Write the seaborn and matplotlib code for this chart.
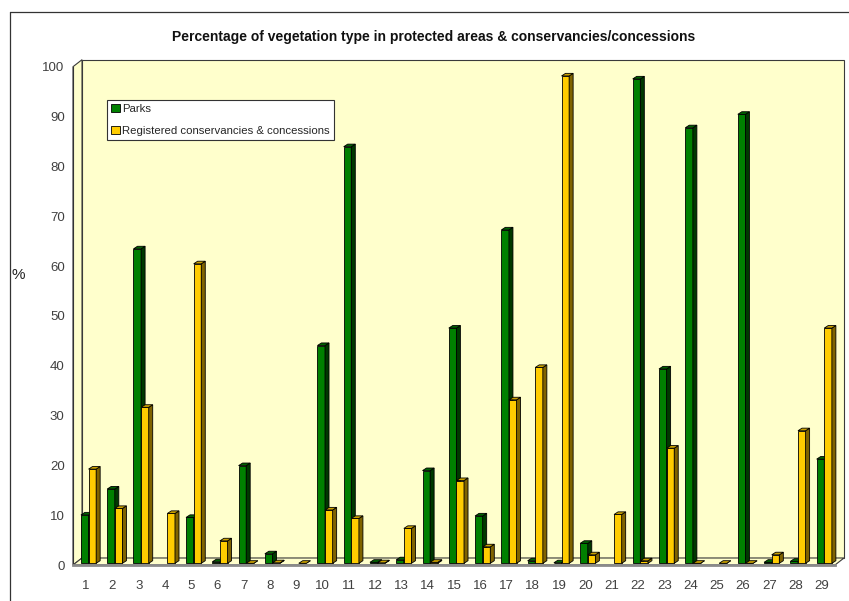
import numpy as np
import pandas as pd
import matplotlib
matplotlib.use("Agg")
import matplotlib.pyplot as plt
from matplotlib.patches import Polygon, Patch
from matplotlib.lines import Line2D
from matplotlib.transforms import ScaledTranslation, IdentityTransform
import seaborn as sns

nan = np.nan

# Vegetation types 1..29
categories = [str(i) for i in range(1, 30)]

parks = [9.7, 14.9, 63.1, nan, 9.2, 0.3, 19.6, 1.9, nan, 43.7,
         83.6, 0.2, 0.7, 18.6, 47.2, 9.5, 66.9, 0.5, 0.1, 4.0,
         nan, 97.2, 39.0, 87.4, nan, 90.1, 0.2, 0.4, 20.9]

conservancies = [18.9, 11.0, 31.3, 10.0, 60.1, 4.5, 0.0, 0.1, 0.0, 10.7,
                 9.0, 0.1, 7.0, 0.2, 16.6, 3.3, 32.8, 39.3, 97.8, 1.7,
                 9.8, 0.5, 23.1, 0.0, 0.0, 0.0, 1.7, 26.6, 47.2]

series_names = ["Parks", "Registered conservancies & concessions"]
title = "Percentage of vegetation type in protected areas & conservancies/concessions"

# front / side / top shades for the pseudo-3D bars
front_colors = ["#008000", "#FFCC00"]
side_colors = ["#003800", "#7F6300"]
top_colors = ["#006200", "#C9A000"]

W, H = 849, 601
sns.set_theme(style="white")
plt.rcParams["font.family"] = ["Liberation Sans", "DejaVu Sans"]

df = pd.DataFrame({
    "category": categories * 2,
    "series": [series_names[0]] * len(categories) + [series_names[1]] * len(categories),
    "value": parks + conservancies,
}).dropna()

fig = plt.figure(figsize=(W / 100, H / 100), dpi=100)
fig.patch.set_facecolor("white")
ax = fig.add_axes([73 / W, 1 - 565 / H, (835 - 73) / W, (565 - 66.7) / H])
ax.set_facecolor("none")

sns.barplot(data=df, x="category", y="value", hue="series",
            order=categories, hue_order=series_names,
            palette=dict(zip(series_names, front_colors)),
            width=0.58, saturation=1, errorbar=None, legend=False,
            edgecolor="black", linewidth=0.6, ax=ax)

ax.set_xlim(-0.5, len(categories) - 0.5)
ax.set_ylim(0, 100)
ax.set_autoscale_on(False)

# box walls (back, left, floor) in pixel space
bx0, by0 = ax.transAxes.transform((0, 0))
bx1, by1 = ax.transAxes.transform((1, 1))
ddx, ddy = 9, 7
wall_kw = dict(closed=True, transform=IdentityTransform(), clip_on=False,
               facecolor="#FFFFCC", edgecolor="#3A3A3A", linewidth=0.8)
ax.add_patch(Polygon([(bx0 + ddx, by0 + ddy), (bx1 + ddx, by0 + ddy),
                      (bx1 + ddx, by1 + ddy), (bx0 + ddx, by1 + ddy)],
                     zorder=0.1, **wall_kw))
ax.add_patch(Polygon([(bx0, by0), (bx0, by1), (bx0 + ddx, by1 + ddy),
                      (bx0 + ddx, by0 + ddy)], zorder=0.2, **wall_kw))
ax.add_patch(Polygon([(bx0, by0), (bx1, by0), (bx1 + ddx, by0 + ddy),
                      (bx0 + ddx, by0 + ddy)], zorder=0.2, **wall_kw))

# extrude each seaborn bar: shift slightly into the box, add side and top faces
sx, sy = 2.4, 1.7
dx, dy = 4.0, 2.6
shift = ax.transData + ScaledTranslation(sx / 100, sy / 100, fig.dpi_scale_trans)
bars = [p for p in ax.patches if hasattr(p, "get_width")
        and abs(p.get_width() - 0.29) < 0.01]
for p in bars:
    fc = matplotlib.colors.to_hex(p.get_facecolor())
    k = 0 if fc.lower() == front_colors[0].lower() else 1
    base_z = 3 + 0.2 * k
    p.set_transform(shift)
    p.set_zorder(base_z)
    p.set_clip_on(False)
    x0, x1 = p.get_x(), p.get_x() + p.get_width()
    h = p.get_height()
    (X0, Y0), (X1, Y1) = shift.transform([(x0, 0), (x1, h)])
    face_kw = dict(closed=True, transform=IdentityTransform(), clip_on=False,
                   edgecolor="black", linewidth=0.6, zorder=base_z + 0.1)
    ax.add_patch(Polygon([(X1, Y0), (X1 + dx, Y0 + dy), (X1 + dx, Y1 + dy), (X1, Y1)],
                         facecolor=side_colors[k], **face_kw))
    ax.add_patch(Polygon([(X0, Y1), (X1, Y1), (X1 + dx, Y1 + dy), (X0 + dx, Y1 + dy)],
                         facecolor=top_colors[k], **face_kw))

# axes styling
for s in ["top", "right"]:
    ax.spines[s].set_visible(False)
ax.spines["left"].set_color("#333333")
ax.spines["left"].set_linewidth(0.8)
ax.spines["left"].set_zorder(2)
ax.spines["bottom"].set_color("#8A8A8A")
ax.spines["bottom"].set_linewidth(2)
ax.spines["bottom"].set_zorder(2)

ax.set_yticks(np.arange(0, 101, 10))
ax.tick_params(axis="y", direction="out", length=5, width=0.8, color="#333333",
               labelcolor="#404040", labelsize=9.5, pad=1)
ax.set_xticks(range(len(categories)))
ax.set_xticklabels(categories)
ax.tick_params(axis="x", which="major", length=0, labelcolor="#404040",
               labelsize=9.5, pad=11)
ax.set_xticks(np.arange(-0.5, len(categories), 1), minor=True)
ax.tick_params(axis="x", which="minor", direction="out", length=6.5, width=0.8,
               color="#444444")
ax.set_xlabel("")
ax.set_ylabel("")

fig.text(18 / W, 1 - 275 / H, "%", fontsize=11, ha="center", va="center",
         color="#222222")
fig.text(434 / W, 1 - 37 / H, title, fontsize=10, fontweight="bold",
         ha="center", va="center", color="#111111")

handles = [Patch(facecolor=c, edgecolor="black", linewidth=0.6) for c in front_colors]
leg = ax.legend(handles, series_names, loc="upper left",
                bbox_to_anchor=(107 / W, 1 - 100 / H), bbox_transform=fig.transFigure,
                frameon=True, fancybox=False, framealpha=1, edgecolor="#333333",
                prop={"size": 8.2}, handlelength=0.75,
                handleheight=0.75, handletextpad=0.25, borderpad=0.35,
                labelspacing=1.0, borderaxespad=0)
leg.get_frame().set_linewidth(0.8)
leg.set_zorder(5)

# outer frame
fig.add_artist(Line2D([10 / W, 10 / W], [0, 1 - 12 / H], color="#333333",
                      linewidth=0.9, transform=fig.transFigure))
fig.add_artist(Line2D([10 / W, 1], [1 - 12 / H, 1 - 12 / H], color="#333333",
                      linewidth=0.9, transform=fig.transFigure))

fig.savefig("out.png", dpi=100)
